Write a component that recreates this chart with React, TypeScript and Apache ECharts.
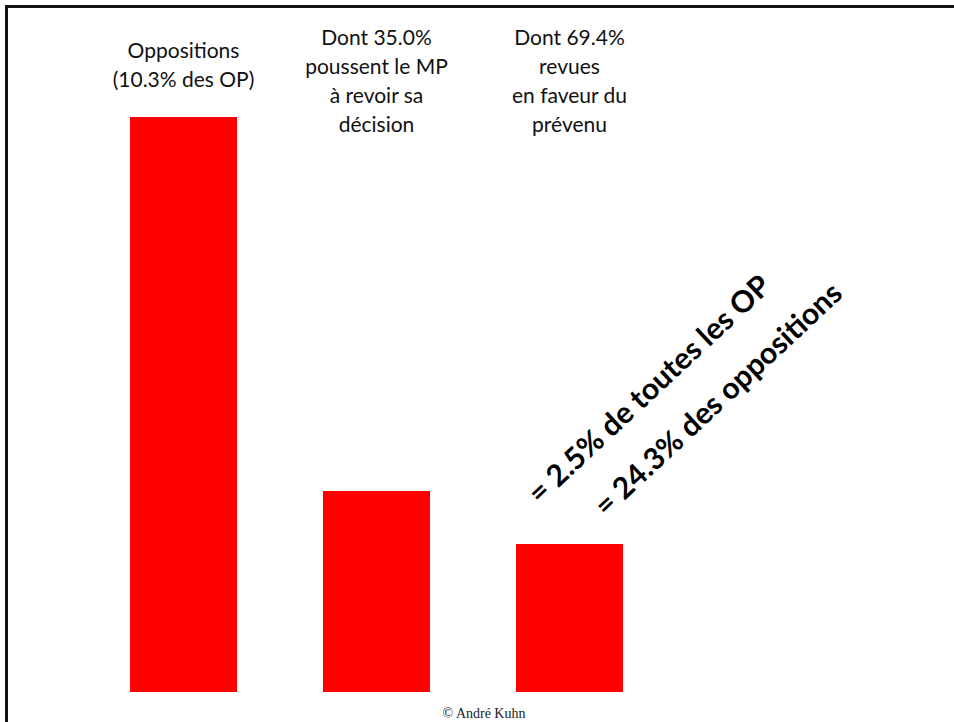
import React, { useEffect, useRef } from "react";
import * as echarts from "echarts";

const categories = [
  "Oppositions\n(10.3% des OP)",
  "Dont 35.0%\npoussent le MP\nà revoir sa\ndécision",
  "Dont 69.4%\nrevues\nen faveur du\nprévenu",
];
const values = [10.3, 3.6, 2.65];
const labelTops = [35, 22, 22];
const labelCentersX = [183.5, 376.5, 569.5];
const noteLines = ["= 2.5% de toutes les OP", "= 24.3% des oppositions"];
const credit = "© André Kuhn";

export default function App() {
  const ref = useRef<HTMLDivElement>(null);
  useEffect(() => {
    if (!ref.current) return;
    const chart = echarts.init(ref.current, null, { renderer: "svg" });
    const labelFont = "Lato, 'Noto Sans', sans-serif";
    const graphics: any[] = [
      { type: "line", shape: { x1: 5, y1: 6.5, x2: 954, y2: 6.5 }, style: { stroke: "#111", lineWidth: 3 } },
      { type: "line", shape: { x1: 6.5, y1: 5, x2: 6.5, y2: 722 }, style: { stroke: "#111", lineWidth: 3 } },
    ];
    categories.forEach((c, i) => {
      graphics.push({
        type: "text",
        x: labelCentersX[i],
        y: labelTops[i],
        style: {
          text: c,
          fill: "#111",
          font: `21px ${labelFont}`,
          lineHeight: 29,
          align: "center",
          verticalAlign: "top",
        },
      });
    });
    const rot = (43 * Math.PI) / 180;
    const noteCenters = [
      [648, 388],
      [717, 398],
    ];
    noteLines.forEach((t, i) => {
      graphics.push({
        type: "text",
        x: noteCenters[i][0],
        y: noteCenters[i][1],
        rotation: rot,
        style: {
          text: t,
          fill: "#000",
          font: `bold 30px ${labelFont}`,
          align: "center",
          verticalAlign: "middle",
        },
      });
    });
    graphics.push({
      type: "text",
      x: 484,
      y: 713,
      style: {
        text: credit,
        fill: "#222",
        font: "14px 'Liberation Serif', 'DejaVu Serif', serif",
        align: "center",
        verticalAlign: "middle",
      },
    });

    chart.setOption({
      animation: false,
      backgroundColor: "#fff",
      grid: { left: 87, right: 288, top: 117, bottom: 30 },
      xAxis: {
        type: "category",
        data: categories,
        axisLine: { show: false },
        axisTick: { show: false },
        axisLabel: { show: false },
        splitLine: { show: false },
      },
      yAxis: {
        type: "value",
        min: 0,
        max: 10.3,
        show: false,
        splitLine: { show: false },
      },
      series: [
        {
          type: "bar",
          data: values,
          barWidth: 107,
          itemStyle: { color: "#FF0000" },
        },
      ],
      graphic: graphics,
    });
    return () => chart.dispose();
  }, []);
  return (
    <div
      ref={ref}
      style={{ position: "fixed", left: 0, top: 0, width: 954, height: 722, background: "#fff" }}
    />
  );
}
